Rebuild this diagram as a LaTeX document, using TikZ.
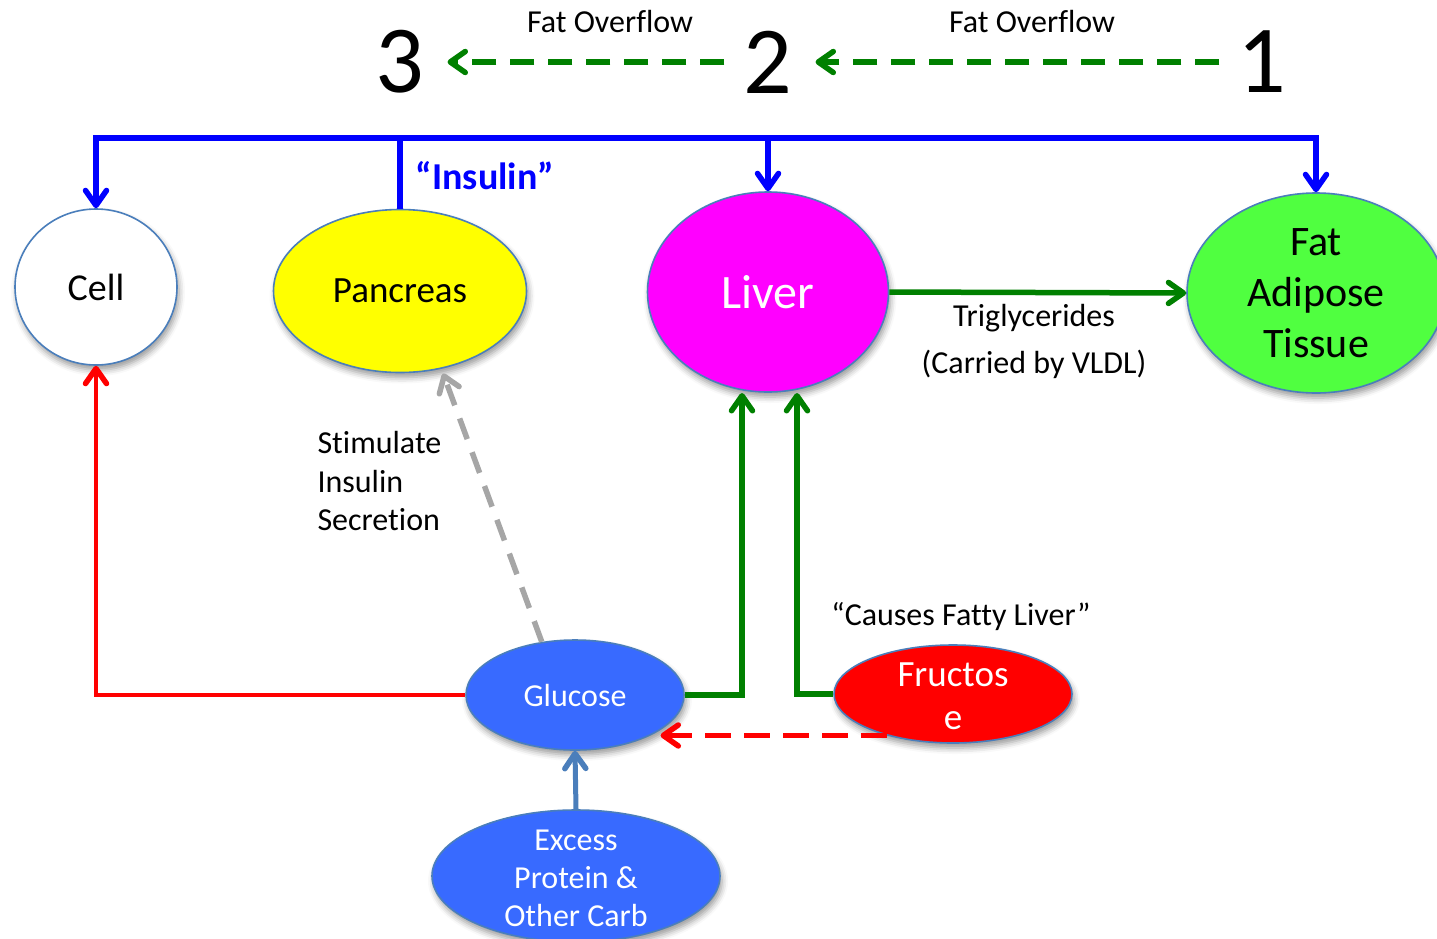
\documentclass[tikz,border=0pt]{standalone}
\usepackage{fontspec}
\setmainfont{Carlito}[Ligatures=NoCommon]
\usetikzlibrary{arrows.meta,shapes.geometric,shadows.blur}

\definecolor{edge}{RGB}{74,126,187}
\definecolor{fatgreen}{RGB}{80,255,64}
\definecolor{nodeblue}{RGB}{56,106,255}
\definecolor{darkgreen}{RGB}{0,128,0}
\definecolor{steel}{RGB}{74,126,187}
\definecolor{lightgray}{RGB}{166,166,166}
\definecolor{livercol}{RGB}{255,0,255}
\definecolor{pureblue}{RGB}{0,0,255}
\definecolor{purered}{RGB}{255,0,0}
\definecolor{pureyellow}{RGB}{255,255,0}

\newcommand\fsz[2]{\fontsize{#1}{#2}\selectfont}

\tikzset{
  x=1pt, y=-1pt,
  chevron/.tip={Straight Barb[length=15pt,width=21pt,line width=5.5pt,round]},
  blob/.style={ellipse, draw=edge, line width=1.6pt, inner sep=0pt,
    blur shadow={shadow xshift=2pt, shadow yshift=-5pt,
      shadow blur radius=6pt, shadow opacity=40}},
  lbl/.style={align=center, inner sep=0pt},
  insulin/.style={draw=pureblue, line width=6pt, -chevron},
  greenline/.style={draw=darkgreen, line width=5.5pt, -chevron},
  overflow/.style={draw=darkgreen, line width=5.5pt, -chevron,
    dash pattern=on 24pt off 14pt},
}

\begin{document}
\begin{tikzpicture}
\useasboundingbox (0,0) rectangle (1437,938);
\clip (0,0) rectangle (1437,938);

% overflow chain at the top
\node[font=\fsz{96}{110}, inner sep=0pt] (n3) at (400,62) {3};
\node[font=\fsz{96}{110}, inner sep=0pt] (n2) at (768,62) {2};
\node[font=\fsz{96}{110}, inner sep=0pt] (n1) at (1262,62) {1};
\node[font=\fsz{32}{38}] (fo32) at (610,22) {Fat Overflow};
\node[font=\fsz{32}{38}] (fo21) at (1032,22) {Fat Overflow};
\draw[overflow, shorten <=18pt, shorten >=23pt] (n1) -- (n2);
\draw[overflow, shorten <=19pt, shorten >=23pt] (n2) -- (n3);

% organs
\node[blob, fill=white, minimum width=162pt, minimum height=156pt,
  font=\fsz{38}{45}] (cell) at (96,287) {Cell};
\node[blob, fill=pureyellow, minimum width=253pt, minimum height=163pt,
  font=\fsz{37}{44}] (pancreas) at (400,291) {Pancreas};
\node[blob, fill=livercol, text=white, minimum width=241pt, minimum height=200pt,
  font=\fsz{48}{57}] (liver) at (768,292) {Liver};
\node[blob, fill=fatgreen, minimum width=258pt, minimum height=200pt,
  label={[lbl, font=\fsz{42}{51}]center:{Fat\\Adipose\\Tissue}}] (fat) at (1316,293) {};

% sugars
\node[blob, fill=nodeblue, text=white, minimum width=218pt, minimum height=110pt,
  font=\fsz{32}{38}] (glucose) at (575,695) {Glucose};
\node[blob, fill=purered, minimum width=238pt, minimum height=98pt,
  label={[lbl, text=white, font=\fsz{37}{43}, yshift=-2pt]center:{Fructos\\e}}] (fructose) at (953,694) {};
\node[blob, fill=nodeblue, minimum width=288pt, minimum height=132pt,
  label={[lbl, text=white, font=\fsz{32}{38}, yshift=-2pt]center:{Excess\\Protein \&\\Other Carb}}] (excess) at (576,876) {};

% free texts
\node[font=\bfseries\fsz{38}{44}, text=pureblue] (ins) at (485,176) {“Insulin”};
\node[font=\fsz{32}{38}] (trig) at (1034,318) {Triglycerides};
\node[font=\fsz{32}{38}] (vldl) at (1034,364) {(Carried by VLDL)};
\node[font=\fsz{32}{38.5}, align=left, anchor=west] (stim) at (314,481) {Stimulate\\Insulin\\Secretion};
\node[font=\fsz{32}{38}] (fatty) at (961,617) {“Causes Fatty Liver”};

% insulin bus
\coordinate (bus) at (0,138);
\draw[insulin] (pancreas.north) |- (bus -| cell) -- (cell.north);
\draw[insulin] (pancreas.north) |- (bus -| liver) -- (liver.north);
\draw[insulin] (pancreas.north) |- (bus -| fat) -- (fat.north);

% liver inputs and output
\coordinate (gin) at (742,393);
\coordinate (fin) at (797,393);
\draw[greenline] (glucose.east) -| (gin);
\draw[greenline] (fructose.west) -| (fin);
\draw[greenline] (liver.east) -- (fat.west);

% glucose paths
\draw[draw=purered, line width=4.5pt, -chevron] (glucose.west) -| (cell.south);
\draw[draw=lightgray, line width=5.5pt, -chevron, dash pattern=on 22pt off 14pt,
  shorten >=5pt] (glucose.122) -- (pancreas.-62);
\draw[draw=purered, line width=5pt, -chevron, dash pattern=on 26pt off 13pt,
  shorten >=8pt] (fructose.212) -- (glucose.-27 |- fructose.212);
\draw[draw=steel, line width=5pt, -chevron] (excess.north) -- (glucose.south);
\end{tikzpicture}
\end{document}
